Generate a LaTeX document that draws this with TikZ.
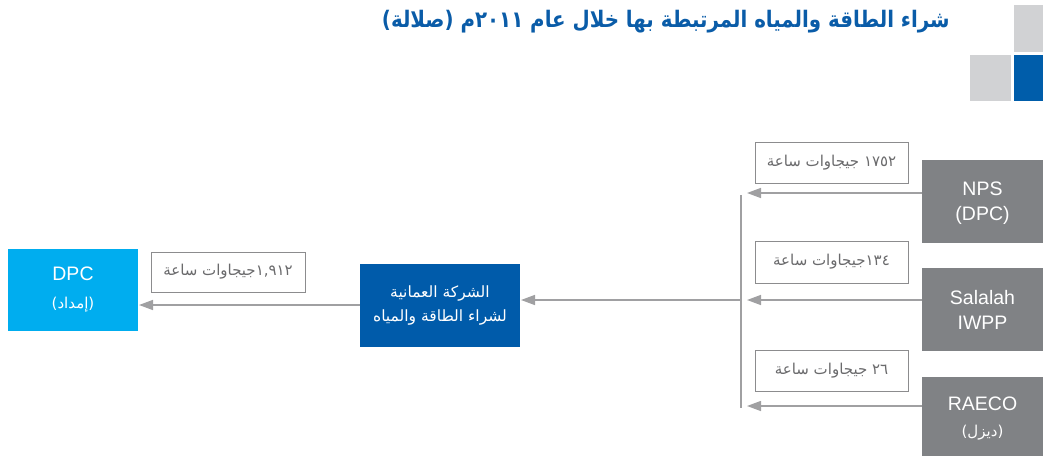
\documentclass[tikz,border=0pt]{standalone}
\usepackage{fontspec}
\usepackage{graphicx}
\setmainfont{Liberation Sans}
\newfontfamily\arabicfont[Script=Arabic]{DejaVu Sans}
\newfontfamily\arabicbold[Script=Arabic]{DejaVu Sans Bold}
\TeXXeTstate=1
\usetikzlibrary{arrows.meta}
\definecolor{ttlblue}{HTML}{0A5CA8}
\definecolor{sqgray}{HTML}{D1D2D4}
\definecolor{sqblue}{HTML}{005DAA}
\definecolor{dpccyan}{HTML}{00ADEF}
\definecolor{opblue}{HTML}{005BAA}
\definecolor{srcgray}{HTML}{808285}
\definecolor{arrgray}{HTML}{A0A0A2}
\definecolor{lblborder}{HTML}{8C8C8E}
\definecolor{lbltext}{HTML}{6A6A6C}
\tikzset{
  sq/.style={inner sep=0pt, outer sep=0pt},
  srcbox/.style={fill=srcgray, text=white, inner sep=0pt, outer sep=0pt, minimum width=121pt, align=center, font=\fontsize{19.5}{25}\selectfont},
  lblbox/.style={draw=lblborder, line width=1pt, inner sep=0pt, outer sep=0pt, minimum width=153pt, minimum height=41pt, text=lbltext, font=\arabicfont\fontsize{15}{18}\selectfont},
  conn/.style={draw=arrgray, line width=1.4pt, -{Triangle[length=14pt,width=10pt]}},
}
\begin{document}
\begin{tikzpicture}[x=1pt,y=-1pt]
\useasboundingbox (0,0) rectangle (1043,455);
% title
\node[anchor=east, text=ttlblue, inner sep=0pt, font=\arabicbold\fontsize{19.8}{24}\selectfont] (title) at (950,22)
  {\scalebox{1}[1.15]{\beginR شراء الطاقة والمياه المرتبطة بها خلال عام \beginL٢٠١١\endL م (صلالة)\endR}};
% squares
\node[sq, fill=sqgray, minimum width=29pt, minimum height=47pt] (sq1) at (1028.5,28.5) {};
\node[sq, fill=sqgray, minimum width=41pt, minimum height=46pt] (sq2) at (990.5,78) {};
\node[sq, fill=sqblue, minimum width=29pt, minimum height=46pt] (sq3) at (1028.5,78) {};
% DPC
\node[fill=dpccyan, text=white, inner sep=0pt, outer sep=0pt, minimum width=130pt, minimum height=82pt, align=center, font=\fontsize{19.5}{28}\selectfont] (dpc) at (73,290)
  {DPC\\{\arabicfont\fontsize{15}{28}\selectfont\beginR(إمداد)\endR}};
% OPWP
\node[fill=opblue, text=white, inner sep=0pt, outer sep=0pt, minimum width=160pt, minimum height=83pt, align=center, font=\arabicfont\fontsize{15.5}{24}\selectfont] (opwp) at (440,305.5)
  {\beginR الشركة العمانية\endR\\\beginR لشراء الطاقة والمياه\endR};
% sources
\node[srcbox, minimum height=83pt, text depth=0pt] (nps) at (982.5,201.5) {NPS\\(DPC)};
\node[srcbox, minimum height=83pt] (sal) at (982.5,309.5) {Salalah\\IWPP};
\node[srcbox, minimum height=83pt, font=\fontsize{19.5}{26}\selectfont] (rae) at (982.5,418.5)
  {RAECO\\{\arabicfont\fontsize{15}{26}\selectfont\beginR(ديزل)\endR}};
% labels
\node[lblbox, minimum width=154pt, minimum height=40pt] (l0) at (228,272) {\beginR\beginL١,٩١٢\endL جيجاوات ساعة\endR};
\node[lblbox] (l1) at (831.5,162.5) {\beginR\beginL١٧٥٢\endL{} جيجاوات ساعة\endR};
\node[lblbox, minimum height=42pt] (l2) at (831.5,262) {\beginR\beginL١٣٤\endL جيجاوات ساعة\endR};
\node[lblbox] (l3) at (831.5,370.5) {\beginR\beginL٢٦\endL{} جيجاوات ساعة\endR};
% junction line
\coordinate (vtop) at (741,195);
\coordinate (vbot) at (741,408);
\coordinate (j1) at (741,193);
\coordinate (j2) at (741,300);
\coordinate (j3) at (741,406);
\draw[draw=arrgray, line width=1.2pt] (vtop) -- (vbot);
\draw[conn, shorten >=6pt] (nps.west |- j1) -- (j1);
\draw[conn, shorten >=6pt] (sal.west |- j2) -- (j2);
\draw[conn, shorten >=6pt] (rae.west |- j3) -- (j3);
\draw[conn, shorten >=1pt] (j2) -- (opwp.east |- j2);
\draw[conn, shorten >=1pt] (opwp.west |- 0,305) -- (dpc.east |- 0,305);
\end{tikzpicture}
\end{document}
